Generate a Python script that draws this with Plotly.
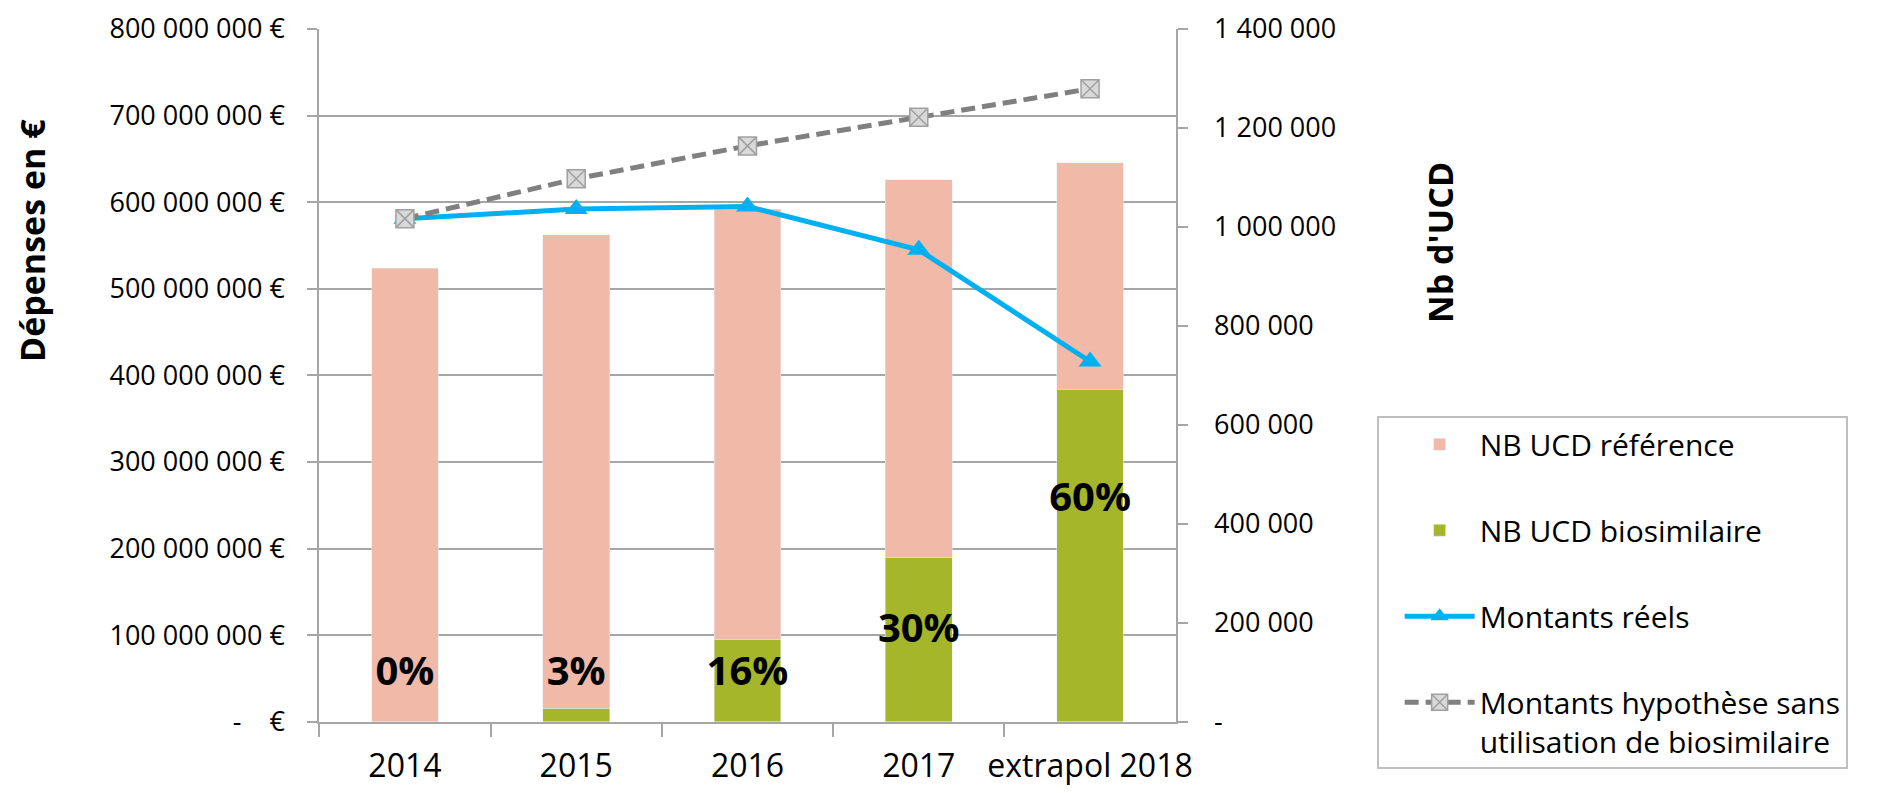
import plotly.graph_objects as go

# data
years = ["2014", "2015", "2016", "2017", "extrapol 2018"]
ucd_reference = [916000, 957000, 870000, 764000, 458000]
ucd_biosimilaire = [0, 27000, 166000, 331000, 672000]
montants_reels = [581e6, 592e6, 595e6, 545e6, 416e6]
montants_hypothese = [581e6, 627e6, 665e6, 698e6, 731e6]
pct_labels = ["0%", "3%", "16%", "30%", "60%"]
pct_label_y = [94000, 94000, 94000, 181000, 447000]

euro_ticks = [0, 1e8, 2e8, 3e8, 4e8, 5e8, 6e8, 7e8, 8e8]
euro_ticktext = ["-\u00a0\u00a0\u00a0\u00a0€", "100 000 000 €", "200 000 000 €", "300 000 000 €",
                 "400 000 000 €", "500 000 000 €", "600 000 000 €", "700 000 000 €", "800 000 000 €"]
ucd_ticks = [0, 200000, 400000, 600000, 800000, 1000000, 1200000, 1400000]
ucd_ticktext = ["-", "200 000", "400 000", "600 000", "800 000", "1 000 000", "1 200 000", "1 400 000"]

FONT = "Open Sans"
GRID = "#A6A6A6"

fig = go.Figure()

# bars on the count axis (y, right side); lines on the euro axis (y2, left side)
fig.add_trace(go.Bar(x=years, y=ucd_biosimilaire, name="NB UCD biosimilaire",
                     marker_color="#A5B62A", yaxis="y", legendrank=2, legendgroup="b"))
fig.add_trace(go.Bar(x=years, y=ucd_reference, name="NB UCD référence",
                     marker_color="#F1B9A8", yaxis="y", legendrank=1, legendgroup="a"))
fig.add_trace(go.Scatter(x=years, y=pct_label_y, text=pct_labels, mode="text",
                         textfont=dict(family=FONT, size=40, color="black", weight="bold"),
                         yaxis="y", showlegend=False))
fig.add_trace(go.Scatter(x=years, y=montants_reels, name="Montants réels", mode="lines+markers",
                         line=dict(color="#00B0F0", width=5),
                         marker=dict(symbol="triangle-up", size=20, color="#00B0F0"),
                         yaxis="y2", legendrank=3, legendgroup="c"))
fig.add_trace(go.Scatter(x=years, y=montants_hypothese,
                         name="Montants hypothèse sans<br>utilisation de biosimilaire",
                         mode="lines+markers",
                         line=dict(color="#808080", width=5, dash="14px,7px"),
                         marker=dict(symbol="square-x", size=18, color="#D9D9D9",
                                     line=dict(color="#A0A0A0", width=1.5)),
                         yaxis="y2", legendrank=4, legendgroup="d"))

fig.update_layout(
    width=1887, height=777,
    margin=dict(l=0, r=0, t=0, b=0, autoexpand=False),
    paper_bgcolor="white", plot_bgcolor="white",
    font=dict(family=FONT, color="black"),
    barmode="stack", bargap=0.61,
    xaxis=dict(type="category", domain=[0.16497, 0.61881], showline=True, linecolor=GRID, linewidth=2,
               ticks="outside", tickson="boundaries", ticklen=13, tickcolor=GRID, tickwidth=2,
               tickfont=dict(size=32), tickangle=0, ticklabelstandoff=15, automargin=False,
               ticklabeloverflow="allow"),
    yaxis=dict(domain=[0.08146, 0.97296], range=[0, 1400000], side="right", anchor="x",
               showgrid=False, zeroline=False, showline=True, linecolor=GRID, linewidth=2,
               tickvals=ucd_ticks, ticktext=ucd_ticktext, ticks="outside", ticklen=10,
               tickcolor=GRID, tickwidth=2, tickfont=dict(size=27), ticklabelstandoff=21,
               automargin=False, ticklabeloverflow="allow"),
    yaxis2=dict(range=[0, 8e8], overlaying="y", side="left", anchor="x",
                showgrid=True, gridcolor=GRID, gridwidth=2, zeroline=False,
                showline=True, linecolor=GRID, linewidth=2,
                tickvals=euro_ticks, ticktext=euro_ticktext, ticks="outside", ticklen=10,
                tickcolor=GRID, tickwidth=2, tickfont=dict(size=27), ticklabelstandoff=17,
                automargin=False, ticklabeloverflow="allow"),
    legend=dict(x=0.7253, y=0.4745, xanchor="left", yanchor="top",
                bordercolor="#BFBFBF", borderwidth=2, bgcolor="white",
                font=dict(size=30), itemwidth=70, tracegroupgap=44, indentation=21,
                traceorder="grouped", valign="top"),
    annotations=[
        dict(text="<b>Dépenses en €</b>", x=0.01272, y=0.7001, xref="paper", yref="paper",
             xanchor="center", yanchor="middle",
             textangle=-90, showarrow=False, font=dict(size=34)),
        dict(text="<b>Nb d'UCD</b>", x=0.7589, y=0.6976, xref="paper", yref="paper",
             xanchor="center", yanchor="middle",
             textangle=-90, showarrow=False, font=dict(size=34)),
    ],
)

fig.write_html("out.html")
